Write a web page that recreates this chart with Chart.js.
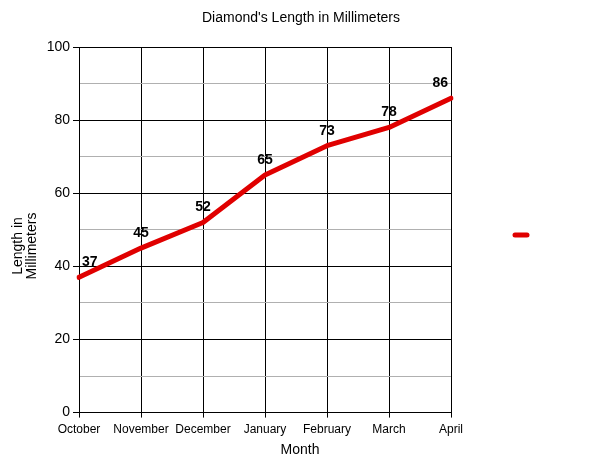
<!DOCTYPE html>
<html>
<head>
<meta charset="utf-8">
<script src="https://cdn.jsdelivr.net/npm/chart.js@4/dist/chart.umd.min.js"></script>
<style>
	html, body { margin: 0; padding: 0; background: #fff; }
	#wrap { width: 600px; height: 463px; }
</style>
</head>
<body>
<div id="wrap"><canvas id="chart" width="600" height="463"></canvas></div>
<script>
const months = ['October', 'November', 'December', 'January', 'February', 'March', 'April']
const lengths = [37, 45, 52, 65, 73, 78, 86]
const yTicks = [0, 20, 40, 60, 80, 100]

const lineRed = '#e00000'
const font = 'Arial, "Liberation Sans", sans-serif'

// value labels above each point, kept inside the plot
const valueLabels = {
	id: 'valueLabels',
	afterDatasetsDraw(chart) {
		const ctx = chart.ctx
		const meta = chart.getDatasetMeta(0)
		const area = chart.chartArea
		ctx.save()
		ctx.font = 'bold 14px ' + font
		ctx.fillStyle = '#000'
		ctx.textAlign = 'center'
		ctx.textBaseline = 'middle'
		meta.data.forEach((pt, i) => {
			const txt = String(lengths[i])
			const w = ctx.measureText(txt).width
			let x = pt.x
			x = Math.max(area.left + w / 2 + 3, Math.min(area.right - w / 2 - 3, x))
			ctx.fillText(txt, x, pt.y - 15)
		})
		ctx.restore()
	}
}

// titles centred on the whole canvas + legend marker without text
const decorations = {
	id: 'decorations',
	afterDraw(chart) {
		const ctx = chart.ctx
		ctx.save()
		ctx.fillStyle = '#000'
		ctx.textAlign = 'center'
		ctx.textBaseline = 'middle'
		ctx.font = '14px ' + font
		ctx.fillText("Diamond's Length in Millimeters", 301, 18)
		ctx.fillText('Month', 300, 450)

		ctx.translate(25, 246)
		ctx.rotate(-Math.PI / 2)
		ctx.fillText('Length in', 0, -7)
		ctx.fillText('Millimeters', 0, 7)
		ctx.restore()

		ctx.save()
		ctx.strokeStyle = lineRed
		ctx.lineWidth = 5
		ctx.lineCap = 'round'
		ctx.beginPath()
		ctx.moveTo(515, 235)
		ctx.lineTo(527, 235)
		ctx.stroke()
		ctx.restore()
	}
}

new Chart(document.getElementById('chart'), {
	type: 'line',
	data: {
		labels: months,
		datasets: [{
			label: '',
			data: lengths,
			borderColor: lineRed,
			backgroundColor: lineRed,
			borderWidth: 5,
			pointRadius: 0,
			tension: 0,
			borderCapStyle: 'round',
			borderJoinStyle: 'round',
		}],
	},
	options: {
		responsive: false,
		animation: false,
		devicePixelRatio: 1,
		layout: { padding: { top: 47, right: 149, left: 47, bottom: 21 } },
		plugins: {
			legend: { display: false },
			tooltip: { enabled: false },
			title: { display: false },
		},
		scales: {
			x: {
				offset: false,
				grid: { color: '#000', lineWidth: 1, tickLength: 5, tickColor: '#000' },
				border: { color: '#000', width: 1 },
				ticks: { color: '#000', font: { family: font, size: 12 }, maxRotation: 0, autoSkip: false, padding: 5 },
			},
			y: {
				min: 0,
				max: 100,
				afterFit: scale => { scale.width = 32 },
				ticks: {
					stepSize: 10,
					color: '#000',
					font: { family: font, size: 14 },
					padding: 3,
					callback: v => (yTicks.includes(v) ? v : ''),
				},
				grid: {
					color: c => (c.tick && c.tick.value % 20 === 0 ? '#000' : '#b0b0b0'),
					tickColor: c => (c.tick && c.tick.value % 20 === 0 ? '#000' : 'rgba(0,0,0,0)'),
					tickLength: 6,
					lineWidth: 1,
				},
				border: { color: '#000', width: 1 },
			},
		},
	},
	plugins: [valueLabels, decorations],
})
</script>
</body>
</html>
